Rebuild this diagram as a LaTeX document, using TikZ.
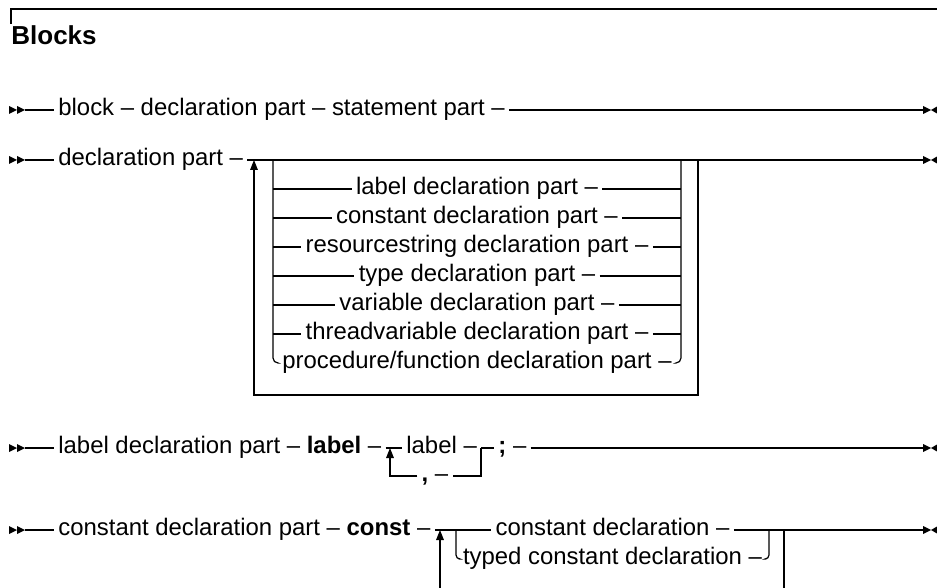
\documentclass[tikz,border=0pt]{standalone}
\usepackage{fontspec}
\setmainfont{Liberation Sans}
\usetikzlibrary{arrows.meta}
\begin{document}
\begin{tikzpicture}[x=0.5pt,y=-0.5pt,
  txt/.style={inner xsep=2pt,inner ysep=0pt,text height=8.5pt,text depth=3pt,font=\fontsize{11.95pt}{14pt}\selectfont},
  rail/.style={line width=0.6pt},
  back/.style={rail,-{Triangle[length=5pt,width=3.8pt]}},
  startsym/.pic={\fill (-16,-4) -- (-8,0) -- (-16,4) -- cycle; \fill (-8,-4) -- (0,0) -- (-8,4) -- cycle;},
  endsym/.pic={\fill (0,-4) -- (8,0) -- (0,4) -- cycle; \fill (14,-3.5) -- (8,0) -- (14,3.5) -- cycle;}]
\useasboundingbox (0,0) rectangle (937,588);

% header
\coordinate (hl) at (11,9);
\coordinate (hr) at (937,9);
\coordinate (ht) at (11,24);
\draw[rail] (ht) -- (hl) -- (hr);
\node[anchor=base west,inner sep=0pt,font=\fontsize{13pt}{15pt}\selectfont\bfseries] (title) at (11,45) {Blocks};

% line 1
\coordinate (s1) at (25,110);
\coordinate (e1) at (923,110);
\pic at (s1) {startsym};
\node[txt,anchor=west] (b1) at (54,110) {block – declaration part – statement part –};
\draw[rail] (s1) -- (b1.west);
\draw[rail] (b1.east) -- (e1);
\pic at (e1) {endsym};

% line 2
\coordinate (s2) at (25,160);
\coordinate (e2) at (923,160);
\coordinate (aL) at (254,160);
\coordinate (bL) at (273,160);
\coordinate (bR) at (681,160);
\coordinate (aR) at (698,160);
\coordinate (lL) at (254,395);
\coordinate (lR) at (698,395);
\pic at (s2) {startsym};
\node[txt,anchor=west] (d2) at (54,160) {declaration part –};
\draw[rail] (s2) -- (d2.west);
\draw[rail] (d2.east) -- (e2);
\pic at (e2) {endsym};
\node[txt] (r1) at (477,189) {label declaration part –};
\node[txt] (r2) at (477,218) {constant declaration part –};
\node[txt] (r3) at (477,247) {resourcestring declaration part –};
\node[txt] (r4) at (477,276) {type declaration part –};
\node[txt] (r5) at (477,305) {variable declaration part –};
\node[txt] (r6) at (477,334) {threadvariable declaration part –};
\node[txt] (r7) at (477,363) {procedure/function declaration part –};
\foreach \r in {r1,r2,r3,r4,r5,r6}{
  \draw[rail] (\r.west -| bL) -- (\r.west);
  \draw[rail] (\r.east) -- (\r.east -| bR);
}
\draw[rail,rounded corners=2.5] (bL) |- (r7.west);
\draw[rail,rounded corners=2.5] (r7.east) -| (bR);
\draw[back] (aR) -- (lR) -- (lL) -- (aL);

% line 3
\coordinate (s3) at (25,448);
\coordinate (e3) at (923,448);
\coordinate (jl3) at (390,448);
\coordinate (jr3) at (481,448);
\coordinate (jlb3) at (390,476);
\coordinate (jrb3) at (481,476);
\pic at (s3) {startsym};
\node[txt,anchor=west] (l3a) at (54,448) {label declaration part – \textbf{label} –};
\node[txt,anchor=west] (l3b) at (402,448) {label –};
\node[txt,anchor=west] (l3c) at (494,448) {\textbf{;} –};
\node[txt] (cm3) at (435,476) {\textbf{,} –};
\draw[rail] (s3) -- (l3a.west);
\draw[rail] (l3a.east) -- (l3b.west);
\draw[rail] (l3b.east) -- (l3c.west);
\draw[rail] (l3c.east) -- (e3);
\pic at (e3) {endsym};
\draw[rail] (jr3) -- (jrb3) -- (cm3.east);
\draw[back] (cm3.west) -- (jlb3) -- (jl3);

% line 4
\coordinate (s4) at (25,530);
\coordinate (e4) at (923,530);
\coordinate (a4) at (440,530);
\coordinate (a4b) at (440,588);
\coordinate (bL4) at (456,530);
\coordinate (bR4) at (769,530);
\coordinate (o4) at (784,530);
\coordinate (o4b) at (784,588);
\pic at (s4) {startsym};
\node[txt,anchor=west] (c4a) at (54,530) {constant declaration part – \textbf{const} –};
\node[txt] (c4r1) at (612.5,530) {constant declaration –};
\node[txt] (c4r2) at (612.5,559) {typed constant declaration –};
\draw[rail] (s4) -- (c4a.west);
\draw[rail] (c4a.east) -- (c4r1.west);
\draw[rail] (c4r1.east) -- (e4);
\pic at (e4) {endsym};
\draw[rail,rounded corners=2] (bL4) |- (c4r2.west);
\draw[rail,rounded corners=2] (c4r2.east) -| (bR4);
\draw[back] (a4b) -- (a4);
\draw[rail] (o4) -- (o4b);
\end{tikzpicture}
\end{document}
